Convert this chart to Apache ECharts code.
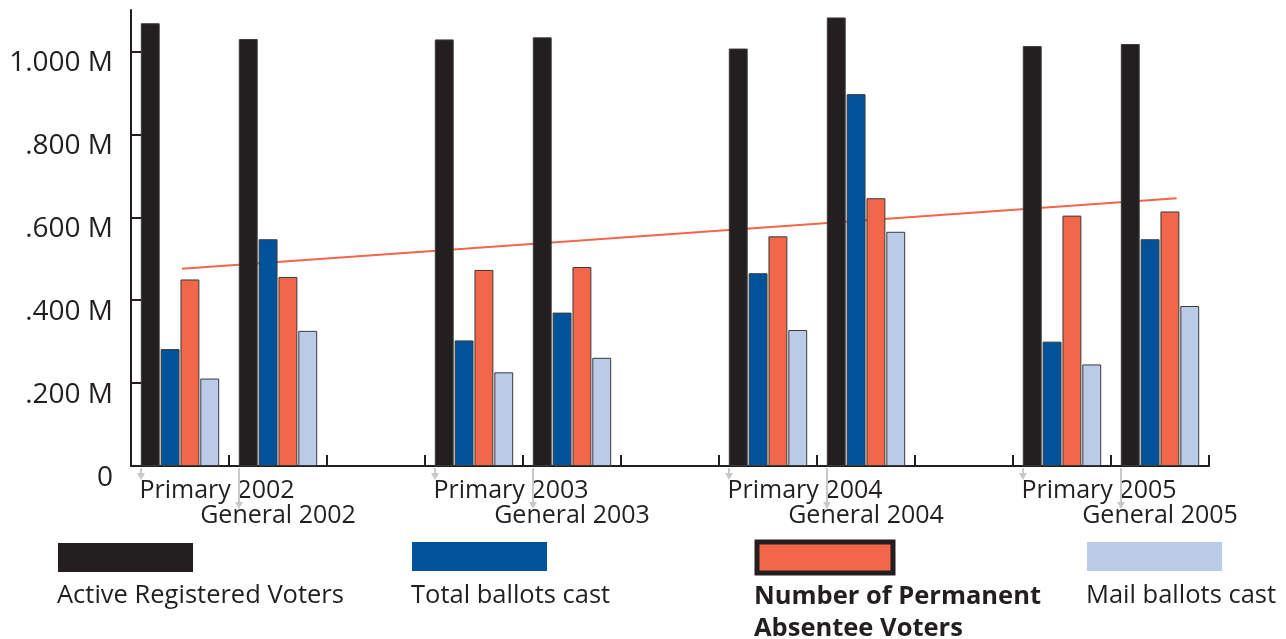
<!DOCTYPE html>
<html><head><meta charset="utf-8">
<script src="https://cdn.jsdelivr.net/npm/echarts@6/dist/echarts.min.js"></script>
<style>html,body{margin:0;padding:0;background:#fff}#c{width:1286px;height:639px}</style>
</head><body><div id="c"></div>
<script>
// ---- data ----
const categories = ['Primary 2002','General 2002','','Primary 2003','General 2003','','Primary 2004','General 2004','','Primary 2005','General 2005'];
const seriesNames = ['Active Registered Voters','Total ballots cast','Number of Permanent Absentee Voters','Mail ballots cast'];
const legendLabels = ['Active Registered Voters','Total ballots cast','Number of Permanent\nAbsentee Voters','Mail ballots cast'];
const activeRegistered = [1.068,1.030,null,1.029,1.034,null,1.007,1.082,null,1.013,1.018];
const totalBallots     = [0.282,0.547,null,0.303,0.370,null,0.465,0.897,null,0.300,0.547];
const permanentAbsentee= [0.450,0.456,null,0.473,0.480,null,0.554,0.646,null,0.604,0.614];
const mailBallots      = [0.211,0.326,null,0.226,0.261,null,0.328,0.565,null,0.245,0.386];
const trendLine = [[0.52,0.476],[10.67,0.646]];
const yTickValues = [0,0.2,0.4,0.6,0.8,1.0];
const yTickLabels = ['0','.200 M','.400 M','.600 M','.800 M','1.000 M'];

const colors = ['#231f20','#00529b','#f26649','#b9cbe6'];
const ink = '#231f20';
const FONT = '"Open Sans", "Noto Sans", sans-serif';

const chart = echarts.init(document.getElementById('c'), null, {renderer:'canvas'});

const arrowData = [];
categories.forEach((c,i)=>{ if(c) arrowData.push([i, c.indexOf('General')===0 ? 1 : 0]); });

const barSeries = [activeRegistered,totalBallots,permanentAbsentee,mailBallots].map((d,i)=>({
  name: seriesNames[i], type:'bar', data:d, xAxisIndex:0, yAxisIndex:0, z:3,
  barCategoryGap:'20%', barGap:'5%',
  itemStyle:{color:colors[i], borderColor:'#3a3a3a', borderWidth:1}
}));

const legendPos = [
  {left:58, top:543, w:135, h:29},
  {left:412, top:542, w:135, h:29},
  {left:754.5, top:539.5, w:136, h:31},
  {left:1087, top:542, w:135, h:29}
];
const legends = seriesNames.map((n,i)=>({
  data:[n], left:legendPos[i].left, top:legendPos[i].top, padding:0, itemGap:0,
  icon:'rect', itemWidth:legendPos[i].w, itemHeight:legendPos[i].h,
  selectedMode:false, formatter:()=> '',
  itemStyle: i===2 ? {borderColor:ink, borderWidth:5} : {borderWidth:0}
}));

const labelPos = [
  {left:57, top:580}, {left:411, top:580}, {left:754, top:581}, {left:1086, top:580}
];
const graphics = legendLabels.map((t,i)=>({
  type:'text', left:labelPos[i].left, top:labelPos[i].top,
  style:{text:t, fill:ink, font:(i===2?'bold 25.5px ':'25.5px ')+FONT, lineHeight:32}
}));

chart.setOption({
  animation:false,
  textStyle:{fontFamily:FONT},
  grid:{left:131, right:77, top:10, bottom:173, containLabel:false},
  legend: legends,
  graphic: graphics,
  xAxis:[{
    type:'category', data:categories, boundaryGap:true,
    axisLine:{show:true, lineStyle:{color:ink, width:2}},
    axisTick:{show:true, inside:true, length:11, interval:0, lineStyle:{color:ink, width:2}},
    axisLabel:{
      interval:0, margin:12, color:ink, fontSize:25, lineHeight:25, fontFamily:FONT,
      formatter:(v)=> !v ? '' : (v.indexOf('Primary')===0 ? '{p|'+v+'}' : '\n'+v),
      rich:{p:{padding:[0,0,0,74], fontSize:25, lineHeight:25, color:ink, fontFamily:FONT}}
    },
    splitLine:{show:false}
  },{
    type:'value', min:0, max:11, show:false
  }],
  yAxis:{
    type:'value', min:0, max:1.1,
    axisLine:{show:true, lineStyle:{color:ink, width:2}},
    axisTick:{show:true, inside:true, length:12, customValues:yTickValues, lineStyle:{color:ink, width:2}},
    axisLabel:{
      customValues:yTickValues, color:ink, fontSize:28, margin:18, fontFamily:FONT,
      verticalAlign:'top', lineHeight:24,
      formatter:(v)=>{ let k=0; yTickValues.forEach((t,i)=>{ if(Math.abs(t-v)<1e-6) k=i; }); return yTickLabels[k]; }
    },
    splitLine:{show:false}
  },
  series:[
    {name:'trend', type:'line', xAxisIndex:1, yAxisIndex:0, data:trendLine, symbol:'none', z:1,
     lineStyle:{color:'#f26649', width:2}, silent:true},
    ...barSeries,
    {name:'arrows', type:'custom', xAxisIndex:0, yAxisIndex:0, data:arrowData, silent:true, z:1,
     renderItem:(params, api)=>{
       const p = api.coord([api.value(0), 0]);
       const bw = api.size([1,0])[0];
       const x = p[0] - bw/2 + 10;
       const y0 = p[1] + 2;
       const len = api.value(1) ? 40 : 11;
       return {type:'group', children:[
         {type:'line', shape:{x1:x, y1:y0, x2:x, y2:y0+len-3}, style:{stroke:'#c9c9c9', lineWidth:2}},
         {type:'polygon', shape:{points:[[x-4,y0+len-6],[x+4,y0+len-6],[x,y0+len+1]]}, style:{fill:'#c9c9c9'}}
       ]};
     }}
  ]
});
</script></body></html>
